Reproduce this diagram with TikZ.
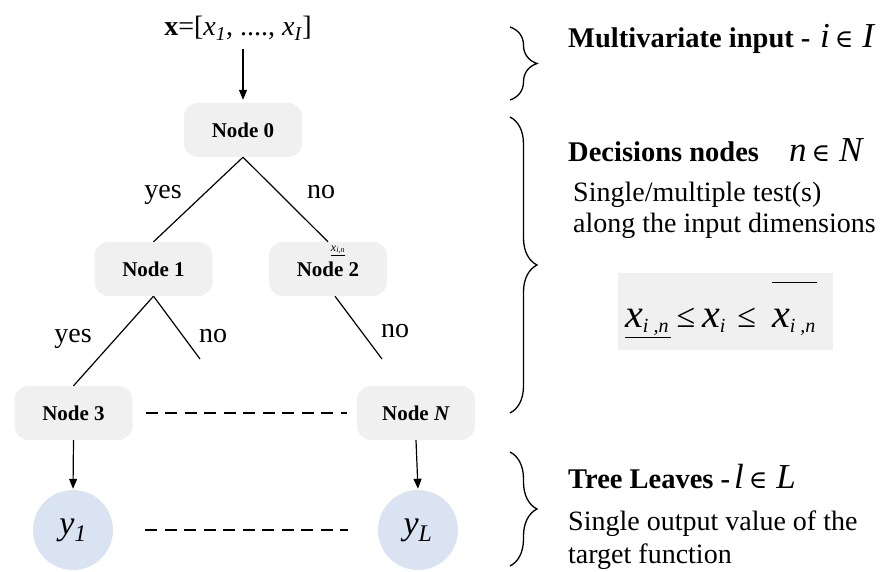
\documentclass[tikz,border=0pt]{standalone}
\usepackage{fontspec}
\setmainfont{Liberation Serif}
\newfontfamily\symfont{DejaVu Serif}
\usetikzlibrary{arrows.meta,decorations.pathreplacing,calc}

\definecolor{boxgray}{RGB}{240,240,240}
\definecolor{leafblue}{RGB}{217,227,242}

% italic symbols and the membership sign used in the annotations
\newcommand{\bigsym}[1]{{\fontsize{35}{38}\selectfont\mdseries\itshape #1}}
\newcommand{\member}{{\fontsize{25}{28}\selectfont\mdseries\symfont\kern5pt∈\kern9pt}}
% lowered subscript and relation sign for the bound formula
\newcommand{\lowsub}[1]{\raisebox{-5pt}{\fontsize{20}{22}\selectfont #1}}
\newcommand{\lesseq}{{\fontsize{34}{36}\selectfont\upshape≤}}

\begin{document}
\begin{tikzpicture}[x=1pt,y=-1pt,
  treenode/.style={fill=boxgray,rounded corners=14pt,minimum width=118pt,minimum height=54pt,
    inner sep=0pt,font=\fontsize{21}{24}\selectfont\bfseries},
  leaf/.style={circle,fill=leafblue,minimum size=80pt,inner sep=0pt,
    font=\fontsize{34}{38}\selectfont\itshape},
  edge/.style={line width=1.2pt},
  flow/.style={line width=1.2pt,-{Triangle[length=10pt,width=8pt]}},
  dotted row/.style={line width=2.8pt,dash pattern=on 12pt off 7.5pt},
  answer/.style={font=\fontsize{28}{30}\selectfont,anchor=base,inner sep=0pt},
  heading/.style={font=\fontsize{28.5}{32}\selectfont\bfseries,anchor=base west,inner sep=0pt},
  symbols/.style={anchor=base west,inner sep=0pt},
  note/.style={font=\fontsize{28}{33}\selectfont,anchor=base west,inner sep=0pt},
  curly/.style={decorate,decoration={brace,amplitude=27pt},line width=1.3pt}]

\useasboundingbox (0,0) rectangle (893,572);

% input vector
\node[font=\fontsize{28}{30}\selectfont,anchor=base,inner sep=0pt] (input) at (238,36)
  {\textbf{x}=[\textit{x}\textsubscript{\textit{1}}, ...., \textit{x}\textsubscript{\textit{I}}]};

% decision nodes
\node[treenode] (n0) at (243,130) {Node 0};
\node[treenode] (n1) at (153.5,269) {Node 1};
\node[treenode] (n2) at (328,269) {Node 2};
\node[treenode] (n3) at (73.5,413) {Node 3};
\node[treenode] (nN) at (416,413) {Node \textit{N}};

% small bound mark on Node 2
\node[font=\fontsize{12}{13}\selectfont\itshape,anchor=base,inner sep=0pt] (bound) at (338,251)
  {\underline{x\textsubscript{i,n}}};

% leaves
\node[leaf] (y1) at (73,530) {y\textsubscript{1}};
\node[leaf] (yL) at (418,530) {y\textsubscript{L}};

% free branch ends
\coordinate (e1) at (200,359);
\coordinate (e2) at (382,359);

% connectors
\draw[flow,shorten >=3pt] (n0.north |- 0,49) -- (n0.north);
\draw[edge] (n0.south) -- (n1.north);
\draw[edge] (n0.south) -- (n2.north);
\draw[edge] (n1.south) -- (n3.north);
\draw[edge] (n1.south) -- (e1);
\draw[edge] ([xshift=7pt]n2.south) -- (e2);
\draw[flow,shorten >=1pt] (n3.south) -- (y1.north);
\draw[flow,shorten >=1pt] (nN.south) -- (yL.north);
\draw[dotted row] ([xshift=13pt]n3.east) -- ([xshift=-10pt]nN.west);
\draw[dotted row] ([xshift=32pt]y1.east) -- ([xshift=-30pt]yL.west);

% branch answers
\node[answer] (a1) at (163,198) {yes};
\node[answer] (a2) at (321,198) {no};
\node[answer] (a3) at (73,342) {yes};
\node[answer] (a4) at (213,342) {no};
\node[answer] (a5) at (395,337) {no};

% braces
\draw[curly] (510,27) -- (510,100);
\draw[curly] (510,117) -- (510,413);
\draw[curly] (510,452) -- (510,566);

% annotations
\node[heading] (h1) at (568,48) {Multivariate input -};
\node[symbols] (h1s) at (820,48) {\bigsym{i}\member\bigsym{I}};
\node[heading] (h2) at (568,162) {Decisions nodes};
\node[symbols] (h2s) at (789,162) {\bigsym{n}\member\bigsym{N}};
\node[note] (t1) at (573,201) {Single/multiple test(s)};
\node[note] (t2) at (573,232) {along the input dimensions};

\node[fill=boxgray,minimum width=215pt,minimum height=77pt,inner sep=0pt] (rulebox) at (725,311) {};
\node[font=\fontsize{40}{44}\selectfont\itshape,anchor=base west,inner sep=0pt] (rule) at (625,327)
  {\underline{\rule[-9pt]{0pt}{9pt}x\lowsub{i ,n}\kern2pt}%
   \kern6pt\lesseq\kern7pt%
   x\lowsub{i}\kern12pt\lesseq\kern16pt%
   \ensuremath{\overline{\hbox{\rule{0pt}{43pt}x\lowsub{i ,n}\kern2pt}}}};

\node[heading] (h3) at (568,488) {Tree Leaves -\hspace{4pt}\bigsym{l}\member\bigsym{L}};
\node[note] (t3) at (568,530) {Single output value of the};
\node[note] (t4) at (568,563) {target function};
\end{tikzpicture}
\end{document}
